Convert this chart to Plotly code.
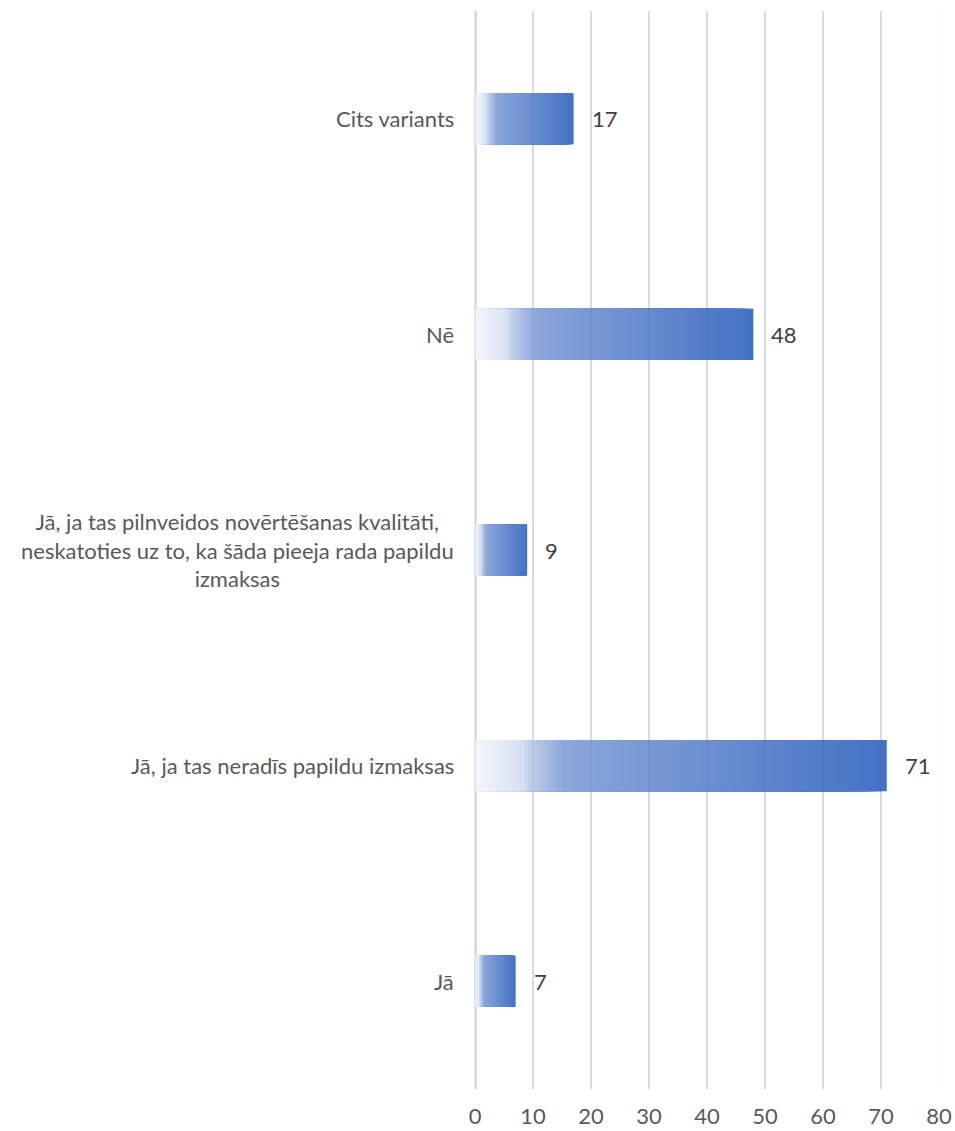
import plotly.graph_objects as go

categories = [
    "Jā",
    "Jā, ja tas neradīs papildu izmaksas",
    "Jā, ja tas pilnveidos novērtēšanas kvalitāti,<br>neskatoties uz to, ka šāda pieeja rada papildu<br>izmaksas",
    "Nē",
    "Cits variants",
]
values = [7, 71, 9, 48, 17]
x_ticks = [0, 10, 20, 30, 40, 50, 60, 70, 80]

# gradient stops (relative position along each bar -> rgb)
grad_stops = [
    (0.00, (244, 247, 252)),
    (0.06, (230, 236, 247)),
    (0.12, (212, 222, 240)),
    (0.13, (194, 208, 235)),
    (0.22, (140, 166, 218)),
    (0.40, (122, 154, 213)),
    (0.70, (95, 133, 204)),
    (1.00, (68, 114, 196)),
]


def grad_color(t):
    for (p0, c0), (p1, c1) in zip(grad_stops[:-1], grad_stops[1:]):
        if p0 <= t <= p1:
            f = (t - p0) / (p1 - p0) if p1 > p0 else 0
            c = [round(a + (b - a) * f) for a, b in zip(c0, c1)]
            return f"rgb({c[0]},{c[1]},{c[2]})"
    c = grad_stops[-1][1]
    return f"rgb({c[0]},{c[1]},{c[2]})"


N = 100
fig = go.Figure()
# overlay bars from longest to shortest to build a per-bar horizontal gradient
for k in range(N, 0, -1):
    frac = k / N
    fig.add_trace(go.Bar(
        y=list(range(len(categories))),
        x=[v * frac for v in values],
        orientation="h",
        marker=dict(color=grad_color((k - 0.5) / N), line=dict(width=0)),
        hoverinfo="skip",
        showlegend=False,
    ))

font_family = "Lato, 'Open Sans', sans-serif"
FS = 22

annotations = []
for i, (c, v) in enumerate(zip(categories, values)):
    annotations.append(dict(
        x=v, y=i, xref="x", yref="y", text=str(v), showarrow=False,
        xanchor="left", xshift=16,
        font=dict(family=font_family, size=FS, color="#404040"),
    ))
    annotations.append(dict(
        x=0, y=i, xref="paper", yref="y", text=c, showarrow=False,
        xanchor="right", xshift=-19, align="center",
        font=dict(family=font_family, size=FS, color="#595959"),
    ))

# faint gridlines showing through the semi-transparent bars
shapes = [
    dict(type="line", xref="x", yref="paper", x0=t, x1=t, y0=0, y1=1,
         line=dict(color="rgba(0,0,0,0.05)", width=3 if t == 0 else 1.5),
         layer="above")
    for t in x_ticks
]

fig.update_layout(
    width=955, height=1131,
    margin=dict(l=475, r=16, t=11, b=42),
    paper_bgcolor="white", plot_bgcolor="white",
    barmode="overlay",
    bargap=0.763,
    annotations=annotations,
    shapes=shapes,
    font=dict(family=font_family, size=FS, color="#595959"),
)
fig.update_xaxes(
    range=[0, 80], tickvals=x_ticks, showgrid=True, gridcolor="#e4e4e4",
    gridwidth=1.5, zeroline=True, zerolinecolor="#e4e4e4", zerolinewidth=3,
    showline=False, ticks="", ticklabelstandoff=12, automargin=False,
    tickfont=dict(family=font_family, size=FS, color="#595959"),
)
fig.update_yaxes(
    range=[-0.5, len(categories) - 0.5], showticklabels=False, showgrid=False,
    zeroline=False, showline=False, automargin=False,
)

fig.write_html(
    "out.html",
    config={"displayModeBar": False},
    post_script="document.body.style.margin='0';document.body.style.overflow='hidden';",
)
